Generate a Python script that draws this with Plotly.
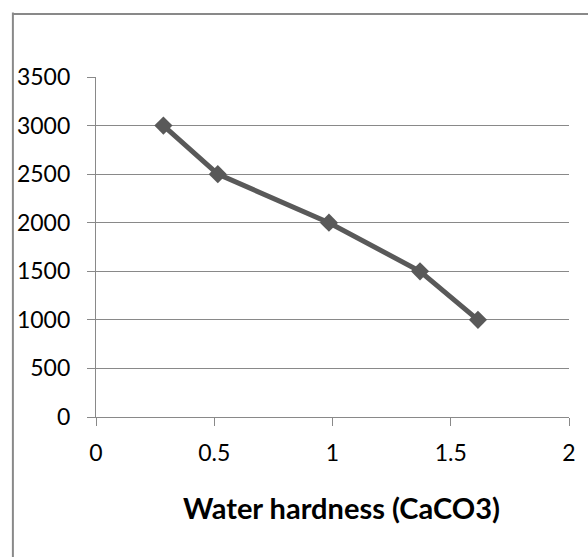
import plotly.graph_objects as go

# Water hardness vs. value series
hardness = [0.285, 0.515, 0.985, 1.37, 1.615]
values = [3000, 2500, 2000, 1500, 1000]

x_ticks = [0, 0.5, 1, 1.5, 2]
x_tick_text = ["0", "0.5", "1", "1.5", "2"]
y_ticks = [0, 500, 1000, 1500, 2000, 2500, 3000, 3500]

GRID = "#898989"
INK = "#595959"
FONT = "Lato"

fig = go.Figure()
fig.add_trace(go.Scatter(
    x=hardness, y=values,
    mode="lines+markers",
    line=dict(color=INK, width=5),
    marker=dict(symbol="diamond", size=14, color=INK),
    showlegend=False,
))

fig.update_layout(
    width=588, height=557,
    margin=dict(l=96, r=14, t=77, b=140),
    paper_bgcolor="white", plot_bgcolor="white",
    font=dict(family=FONT, size=23, color="black"),
    xaxis=dict(
        range=[0, 2], tickvals=x_ticks, ticktext=x_tick_text,
        showgrid=False, zeroline=False,
        showline=True, linecolor=GRID, linewidth=1.3,
        ticks="outside", ticklen=8, tickcolor=GRID, tickwidth=1.3,
        ticklabelstandoff=7, fixedrange=True,
    ),
    yaxis=dict(
        range=[0, 3500], tickvals=y_ticks,
        showgrid=True, gridcolor=GRID, gridwidth=1.3, zeroline=False,
        showline=True, linecolor=GRID, linewidth=1.3,
        ticks="outside", ticklen=8, tickcolor=GRID, tickwidth=1.3,
        ticklabelstandoff=12, fixedrange=True,
    ),
    annotations=[dict(
        text="<b>Water hardness (CaCO3)</b>",
        xref="paper", yref="paper", x=0.518, y=-0.265,
        xanchor="center", yanchor="middle", showarrow=False,
        font=dict(family=FONT, size=29, color="black"),
    )],
    shapes=[
        # outer chart frame (left edge plus top edge)
        dict(type="line", xref="paper", yref="paper",
             x0=-0.1757, x1=-0.1757, y0=-0.6, y1=1.19,
             line=dict(color=GRID, width=2), layer="above"),
        dict(type="line", xref="paper", yref="paper",
             x0=-0.1757, x1=1.2, y0=1.185, y1=1.185,
             line=dict(color=GRID, width=2), layer="above"),
    ],
)

fig.write_html("out.html")
